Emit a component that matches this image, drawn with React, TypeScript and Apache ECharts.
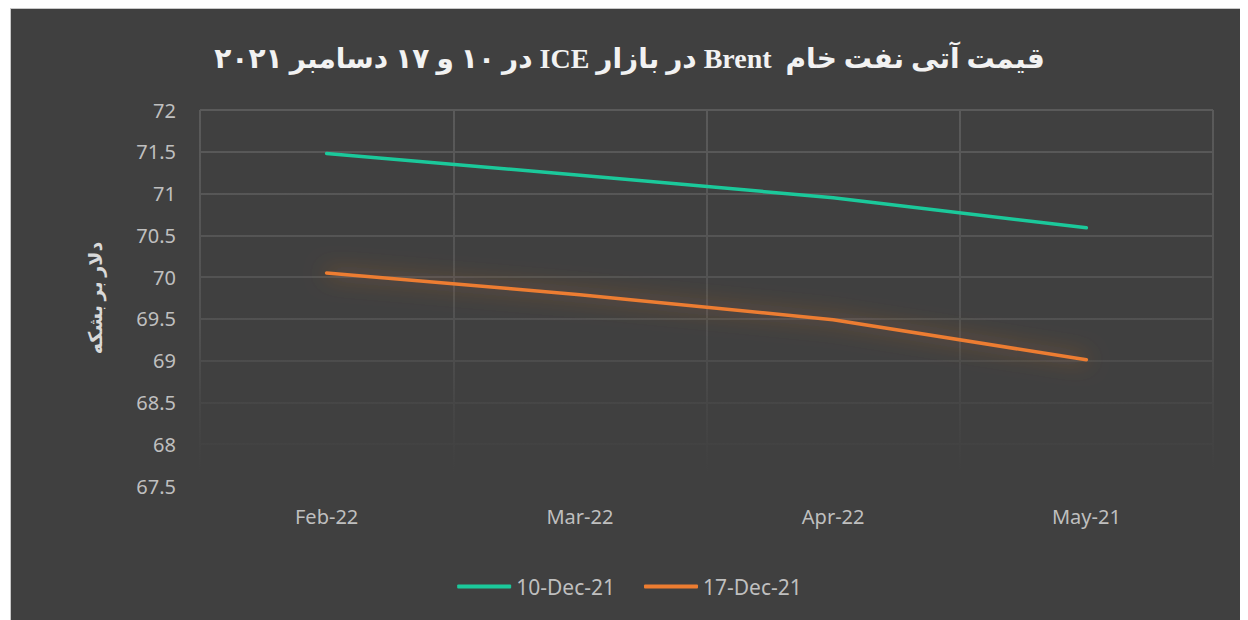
import React, { useEffect, useRef } from "react";
import * as echarts from "echarts";

const categories = ["Feb-22", "Mar-22", "Apr-22", "May-21"];
const dec10 = [71.48, 71.22, 70.95, 70.59];
const dec17 = [70.05, 69.79, 69.49, 69.01];
const seriesNames = ["10-Dec-21", "17-Dec-21"];
const titleText = "قیمت آتی نفت خام  Brent در بازار ICE در ۱۰ و ۱۷ دسامبر ۲۰۲۱";
const yAxisTitle = "دلار بر بشکه";

export default function App() {
  const ref = useRef<HTMLDivElement>(null);
  useEffect(() => {
    document.body.style.overflow = "hidden";
    const st = document.createElement("style");
    st.textContent = "#root svg text { unicode-bidi: plaintext; }";
    document.head.appendChild(st);
    const chart = echarts.init(ref.current!, null, { renderer: "svg" });
    const gridGrad = new echarts.graphic.LinearGradient(
      0, 101, 0, 462,
      [
        { offset: 0, color: "#5a5a5a" },
        { offset: 0.6, color: "#515151" },
        { offset: 0.82, color: "#464646" },
        { offset: 1, color: "#404040" },
      ],
      true
    );
    const sans = "Noto Sans, Open Sans, sans-serif";
    chart.setOption({
      animation: false,
      backgroundColor: "#404040",
      title: {
        text: titleText,
        left: "center",
        top: 30,
        textStyle: {
          color: "#f2f2f2",
          fontSize: 28,
          fontWeight: "bold",
          fontFamily: "Liberation Serif, DejaVu Serif, DejaVu Sans, serif",
        },
      },
      grid: { left: 189, right: 35, top: 101, bottom: 134 },
      legend: {
        top: 562,
        left: "center",
        icon: "roundRect",
        itemWidth: 54,
        itemHeight: 4,
        itemGap: 29,
        textStyle: { color: "#bfbfbf", fontSize: 21, fontFamily: sans, padding: [0, 0, 0, 0] },
        data: seriesNames,
      },
      xAxis: {
        type: "category",
        data: categories,
        boundaryGap: true,
        axisLine: { show: false },
        axisTick: { show: false },
        axisLabel: { color: "#bfbfbf", fontSize: 20, margin: 20, fontFamily: sans },
        splitLine: { show: true, lineStyle: { color: gridGrad, width: 2 } },
      },
      yAxis: {
        type: "value",
        min: 67.5,
        max: 72,
        interval: 0.5,
        name: yAxisTitle,
        nameLocation: "middle",
        nameGap: 95,
        nameRotate: 90,
        nameTextStyle: {
          color: "#d9d9d9",
          fontSize: 19,
          fontWeight: "bold",
          fontFamily: "Liberation Serif, DejaVu Sans, serif",
        },
        axisLine: { show: false },
        axisTick: { show: false },
        axisLabel: { color: "#bfbfbf", fontSize: 20, margin: 24, fontFamily: sans },
        splitLine: { show: true, lineStyle: { color: gridGrad, width: 2 } },
      },
      series: [
        {
          name: seriesNames[0],
          type: "line",
          data: dec10,
          showSymbol: false,
          symbol: "none",
          itemStyle: { color: "#1bc99b" },
          lineStyle: { color: "#1bc99b", width: 3.5, cap: "round" },
        },
        {
          name: seriesNames[1],
          type: "line",
          data: dec17,
          showSymbol: false,
          symbol: "none",
          itemStyle: { color: "#ed7d31" },
          lineStyle: {
            color: "#ed7d31",
            width: 3.5,
            cap: "round",
            shadowBlur: 22,
            shadowColor: "rgba(237,125,49,0.65)",
          },
        },
      ],
    });
    return () => {
      chart.dispose();
      st.remove();
    };
  }, []);
  return (
    <div
      style={{
        marginLeft: 2,
        width: 1238,
        height: 612,
        boxSizing: "border-box",
        borderTop: "1px solid #c8c8c8",
        borderLeft: "1px solid #c8c8c8",
        background: "#404040",
      }}
    >
      <div ref={ref} style={{ width: 1237, height: 611 }} />
    </div>
  );
}
